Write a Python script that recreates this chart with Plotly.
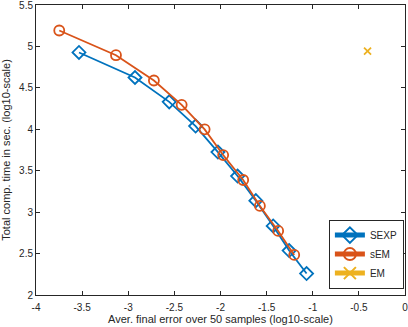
import plotly.graph_objects as go

sexp_x = [-3.534, -2.927, -2.556, -2.270, -2.028, -1.815, -1.617, -1.429, -1.256, -1.067]
sexp_y = [4.927, 4.625, 4.331, 4.039, 3.725, 3.436, 3.139, 2.834, 2.536, 2.259]
sem_x = [-3.748, -3.133, -2.722, -2.421, -2.172, -1.971, -1.754, -1.573, -1.375, -1.201]
sem_y = [5.192, 4.894, 4.589, 4.295, 3.999, 3.689, 3.388, 3.075, 2.773, 2.484]
em_x = [-0.406]
em_y = [4.942]

x_ticks = [-4, -3.5, -3, -2.5, -2, -1.5, -1, -0.5, 0]
x_labels = ["-4", "-3.5", "-3", "-2.5", "-2", "-1.5", "-1", "-0.5", "0"]
y_ticks = [2, 2.5, 3, 3.5, 4, 4.5, 5, 5.5]
y_labels = ["2", "2.5", "3", "3.5", "4", "4.5", "5", "5.5"]

fig = go.Figure()
fig.add_trace(go.Scatter(x=sexp_x, y=sexp_y, mode="lines+markers", name="SEXP",
                         line=dict(color="#0072BD", width=1.8),
                         marker=dict(symbol="diamond-open", size=10, color="#0072BD",
                                     line=dict(width=1.8))))
fig.add_trace(go.Scatter(x=sem_x, y=sem_y, mode="lines+markers", name="sEM",
                         line=dict(color="#D95319", width=1.8),
                         marker=dict(symbol="circle-open", size=10, color="#D95319",
                                     line=dict(width=1.8))))
fig.add_trace(go.Scatter(x=em_x, y=em_y, mode="lines+markers", name="EM",
                         line=dict(color="#EDB120", width=1.8),
                         marker=dict(symbol="x-thin-open", size=7, color="#EDB120",
                                     line=dict(width=1.8, color="#EDB120"))))

axis_common = dict(showline=True, linecolor="#262626", linewidth=1, mirror="ticks",
                   ticks="inside", ticklen=4, tickcolor="#262626", tickwidth=1,
                   showgrid=False, zeroline=False, ticklabeloverflow="allow",
                   tickfont=dict(family="Liberation Sans, Arial", size=10, color="#262626"),
                   title_font=dict(family="Liberation Sans, Arial", size=11, color="#262626"))

fig.update_xaxes(range=[-4, 0], tickvals=x_ticks, ticktext=x_labels,
                 title_text="Aver. final error over 50 samples (log10-scale)",
                 title_standoff=2, ticklabelstandoff=3, **axis_common)
fig.update_yaxes(range=[2, 5.5], tickvals=y_ticks, ticktext=y_labels,
                 title_text="Total comp. time in sec. (log10-scale)",
                 title_standoff=6, **axis_common)

fig.update_layout(width=408, height=327,
                  margin=dict(l=36, r=3, t=5, b=32, autoexpand=False),
                  plot_bgcolor="white", paper_bgcolor="white",
                  showlegend=True,
                  legend=dict(x=0.997, y=0.022, xanchor="right", yanchor="bottom",
                              bordercolor="#262626", borderwidth=1, bgcolor="white",
                              font=dict(family="Liberation Sans, Arial", size=10, color="#262626"),
                              itemwidth=30, tracegroupgap=0,
                              itemsizing="constant"))

fig.write_html("out.html", config={"displayModeBar": False},
               post_script="document.body.style.margin='0';document.body.style.padding='0';")
